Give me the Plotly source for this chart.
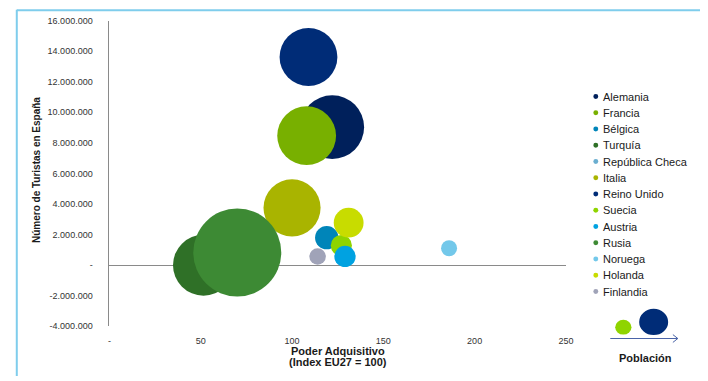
import plotly.graph_objects as go

# ---------------- data ----------------
countries = ["Alemania", "Francia", "Bélgica", "Turquía", "República Checa", "Italia",
             "Reino Unido", "Suecia", "Austria", "Rusia", "Noruega", "Holanda", "Finlandia"]
poder_adquisitivo = [122, 108, 119, 51.5, 80, 100, 109, 127, 129, 70, 186, 131, 114]
turistas = [9030000, 8470000, 1800000, 0, 300000, 3750000, 13620000,
            1290000, 570000, 830000, 1110000, 2780000, 570000]
poblacion_millones = [74.6, 63.4, 10.0, 68.2, 10.0, 59.8, 61.3, 8.2, 8.3, 142.0, 4.7, 16.3, 5.0]
colors = ["#00205b", "#78b000", "#0085b9", "#2f7027", "#6aaed0", "#a9b400",
          "#002c77", "#8fd400", "#00a2e1", "#3d8a34", "#73c8ea", "#c8dc00", "#a0a3b8"]

x_tickvals = [0, 50, 100, 150, 200, 250]
y_tickvals = [-4000000, -2000000, 0, 2000000, 4000000, 6000000, 8000000,
              10000000, 12000000, 14000000, 16000000]


def fmt(v):
    if v == 0:
        return "-"
    return f"{v:,}".replace(",", ".")


x_ticktext = [fmt(v) for v in x_tickvals]
y_ticktext = [fmt(v) for v in y_tickvals]

# ---------------- layout helpers ----------------
W, H = 708, 381
FONT = "Liberation Sans, Arial, sans-serif"


def px(x):
    return x / W


def py(y):
    return 1 - y / H


# plot area in pixels
L, R, T, B = 109, 572, 16, 330

MAX_DIAM = 88
sizeref = 2.0 * max(poblacion_millones) / MAX_DIAM ** 2

fig = go.Figure()
for i, c in enumerate(countries):
    fig.add_trace(go.Scatter(
        x=[poder_adquisitivo[i]], y=[turistas[i]], name=c, mode="markers",
        marker=dict(size=[poblacion_millones[i]], sizemode="area", sizeref=sizeref,
                    color=colors[i], opacity=1, line=dict(width=0)),
        showlegend=False, hoverinfo="name+x+y",
    ))

shapes = []
annotations = []

# frame (top & left light-blue border)
shapes.append(dict(type="line", xref="paper", yref="paper", x0=px(15), x1=px(708),
                   y0=py(5.5), y1=py(5.5), line=dict(color="#7fcdec", width=2)))
shapes.append(dict(type="line", xref="paper", yref="paper", x0=px(15), x1=px(15),
                   y0=py(5), y1=py(381), line=dict(color="#7fcdec", width=2)))

# custom legend
row0, step = 94, 16.69
for i, c in enumerate(countries):
    yc = row0 + i * step
    shapes.append(dict(type="circle", xref="paper", yref="paper",
                       x0=px(599.8), x1=px(604.8), y0=py(yc + 2.5), y1=py(yc - 2.5),
                       fillcolor=colors[i], line=dict(width=0)))
    annotations.append(dict(text=c, xref="paper", yref="paper", x=px(607.5), y=py(yc),
                            xanchor="left", yanchor="middle", showarrow=False,
                            font=dict(family=FONT, size=11, color="#1a1a1a")))

# "Población" illustration
shapes.append(dict(type="circle", xref="paper", yref="paper", x0=px(622), x1=px(638.5),
                   y0=py(338.5), y1=py(323.3), fillcolor="#8fd400", line=dict(width=0)))
shapes.append(dict(type="circle", xref="paper", yref="paper", x0=px(646.3), x1=px(675.7),
                   y0=py(339), y1=py(312), fillcolor="#002c77", line=dict(width=0)))
arrow_col = "#4a64a8"
shapes.append(dict(type="line", xref="paper", yref="paper", x0=px(617), x1=px(685.5),
                   y0=py(342.5), y1=py(342.5), line=dict(color=arrow_col, width=1)))
shapes.append(dict(type="line", xref="paper", yref="paper", x0=px(680.5), x1=px(685.5),
                   y0=py(338.5), y1=py(342.5), line=dict(color=arrow_col, width=1)))
shapes.append(dict(type="line", xref="paper", yref="paper", x0=px(680.5), x1=px(685.5),
                   y0=py(346.5), y1=py(342.5), line=dict(color=arrow_col, width=1)))
annotations.append(dict(text="<b>Población</b>", xref="paper", yref="paper", x=px(653), y=py(362.5),
                        xanchor="center", yanchor="middle", showarrow=False,
                        font=dict(family=FONT, size=11, color="#1a1a1a")))

# axis titles
annotations.append(dict(text="<b>Número de Turistas en España</b>", xref="paper", yref="paper",
                        x=px(35), y=py(170), textangle=-90, xanchor="center", yanchor="middle",
                        showarrow=False, font=dict(family=FONT, size=10, color="#1a1a1a")))
annotations.append(dict(text="<b>Poder Adquisitivo</b>", xref="paper", yref="paper",
                        x=px(340.5), y=py(355), xanchor="center", yanchor="middle",
                        showarrow=False, font=dict(family=FONT, size=11, color="#1a1a1a")))
annotations.append(dict(text="<b>(Index EU27 = 100)</b>", xref="paper", yref="paper",
                        x=px(340.5), y=py(366.7), xanchor="center", yanchor="middle",
                        showarrow=False, font=dict(family=FONT, size=11, color="#1a1a1a")))

fig.update_layout(
    width=W, height=H,
    margin=dict(l=0, r=0, t=0, b=0),
    paper_bgcolor="white", plot_bgcolor="white",
    showlegend=False,
    font=dict(family=FONT, color="#333333"),
    xaxis=dict(domain=[px(L), px(R)], range=[0, 250], tickvals=x_tickvals, ticktext=x_ticktext,
               showgrid=False, zeroline=False, showline=False, ticks="",
               ticklabelstandoff=8,
               tickfont=dict(family=FONT, size=9, color="#333333"), anchor="y"),
    yaxis=dict(domain=[py(B), py(T)], range=[-4000000, 16000000], tickvals=y_tickvals,
               ticktext=y_ticktext, showgrid=False, zeroline=True, zerolinecolor="#8a8a8a",
               zerolinewidth=1, showline=True, linecolor="#8a8a8a", linewidth=1, ticks="",
               ticklabelstandoff=14,
               tickfont=dict(family=FONT, size=9, color="#333333"), anchor="x"),
    shapes=shapes,
    annotations=annotations,
)

fig.write_html("out.html")
